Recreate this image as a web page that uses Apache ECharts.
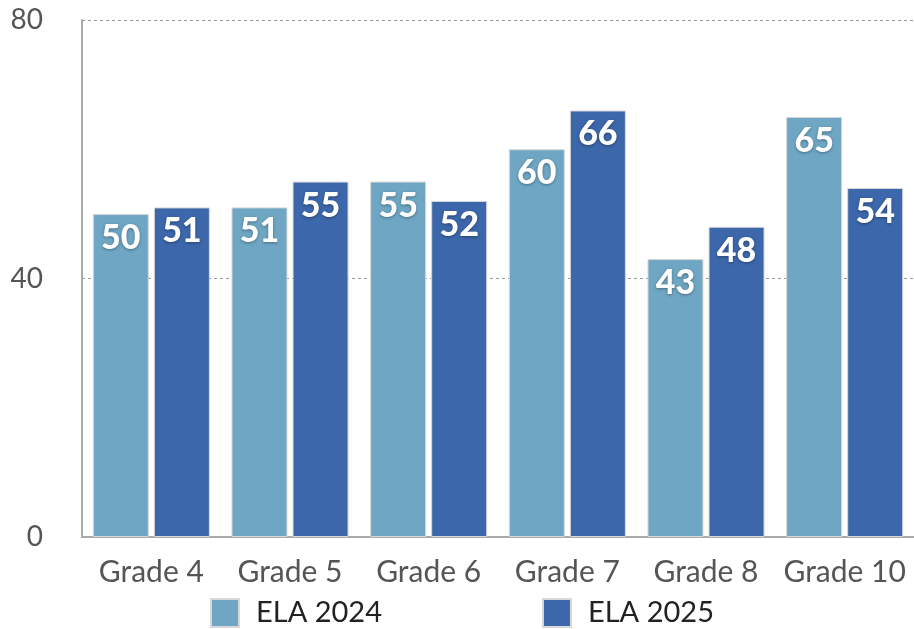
<!DOCTYPE html>
<html>
<head>
<meta charset="utf-8">
<script src="https://cdn.jsdelivr.net/npm/echarts@6/dist/echarts.min.js"></script>
<style>
html,body{margin:0;padding:0;background:#fff;}
#c{width:914px;height:629px;}
</style>
</head>
<body>
<div id="c"></div>
<script>
const categories = ['Grade 4', 'Grade 5', 'Grade 6', 'Grade 7', 'Grade 8', 'Grade 10'];
const ela2024 = [50, 51, 55, 60, 43, 65];
const ela2025 = [51, 55, 52, 66, 48, 54];
const seriesNames = ['ELA 2024', 'ELA 2025'];
const yTicks = { min: 0, max: 80, interval: 40 };

const FONT = 'Lato, "Open Sans", sans-serif';
const chart = echarts.init(document.getElementById('c'), null, { renderer: 'canvas' });

const labelStyle = {
  show: true,
  position: 'insideTop',
  distance: 7,
  color: '#fff',
  fontFamily: FONT,
  fontWeight: 900,
  fontSize: 34,
  textShadowColor: 'rgba(0,0,0,0.35)',
  textShadowBlur: 3,
  textShadowOffsetY: 1
};

chart.setOption({
  animation: false,
  grid: { left: 82, right: 0, top: 20, bottom: 92, containLabel: false },
  legend: {
    data: seriesNames,
    bottom: 1,
    left: 210,
    icon: 'rect',
    itemWidth: 28,
    itemHeight: 28,
    itemGap: 160,
    padding: 0,
    textStyle: { color: '#222', fontSize: 29, lineHeight: 28, fontFamily: FONT, padding: [0, 0, 0, 12] }
  },
  xAxis: {
    type: 'category',
    data: categories,
    axisLine: { show: true, lineStyle: { color: '#aaa', width: 2 } },
    axisTick: { show: false },
    axisLabel: { color: '#555', fontSize: 30, fontFamily: FONT, margin: 20, interval: 0, hideOverlap: false }
  },
  yAxis: {
    type: 'value',
    min: yTicks.min,
    max: yTicks.max,
    interval: yTicks.interval,
    axisLine: { show: true, lineStyle: { color: '#aaa', width: 2 } },
    axisTick: { show: false },
    axisLabel: { color: '#555', fontSize: 28, fontFamily: FONT, margin: 39 },
    splitLine: { show: true, lineStyle: { color: '#999', type: [3, 3], width: 1 } }
  },
  series: [
    {
      name: seriesNames[0],
      type: 'bar',
      data: ela2024,
      barWidth: 56,
      barGap: '9%',
      itemStyle: { color: '#6ea6c4', borderColor: '#d8d8d8', borderWidth: 1 },
      label: labelStyle
    },
    {
      name: seriesNames[1],
      type: 'bar',
      data: ela2025,
      barWidth: 56,
      barGap: '9%',
      itemStyle: { color: '#3c67ab', borderColor: '#d8d8d8', borderWidth: 1 },
      label: labelStyle
    }
  ]
});
</script>
</body>
</html>
